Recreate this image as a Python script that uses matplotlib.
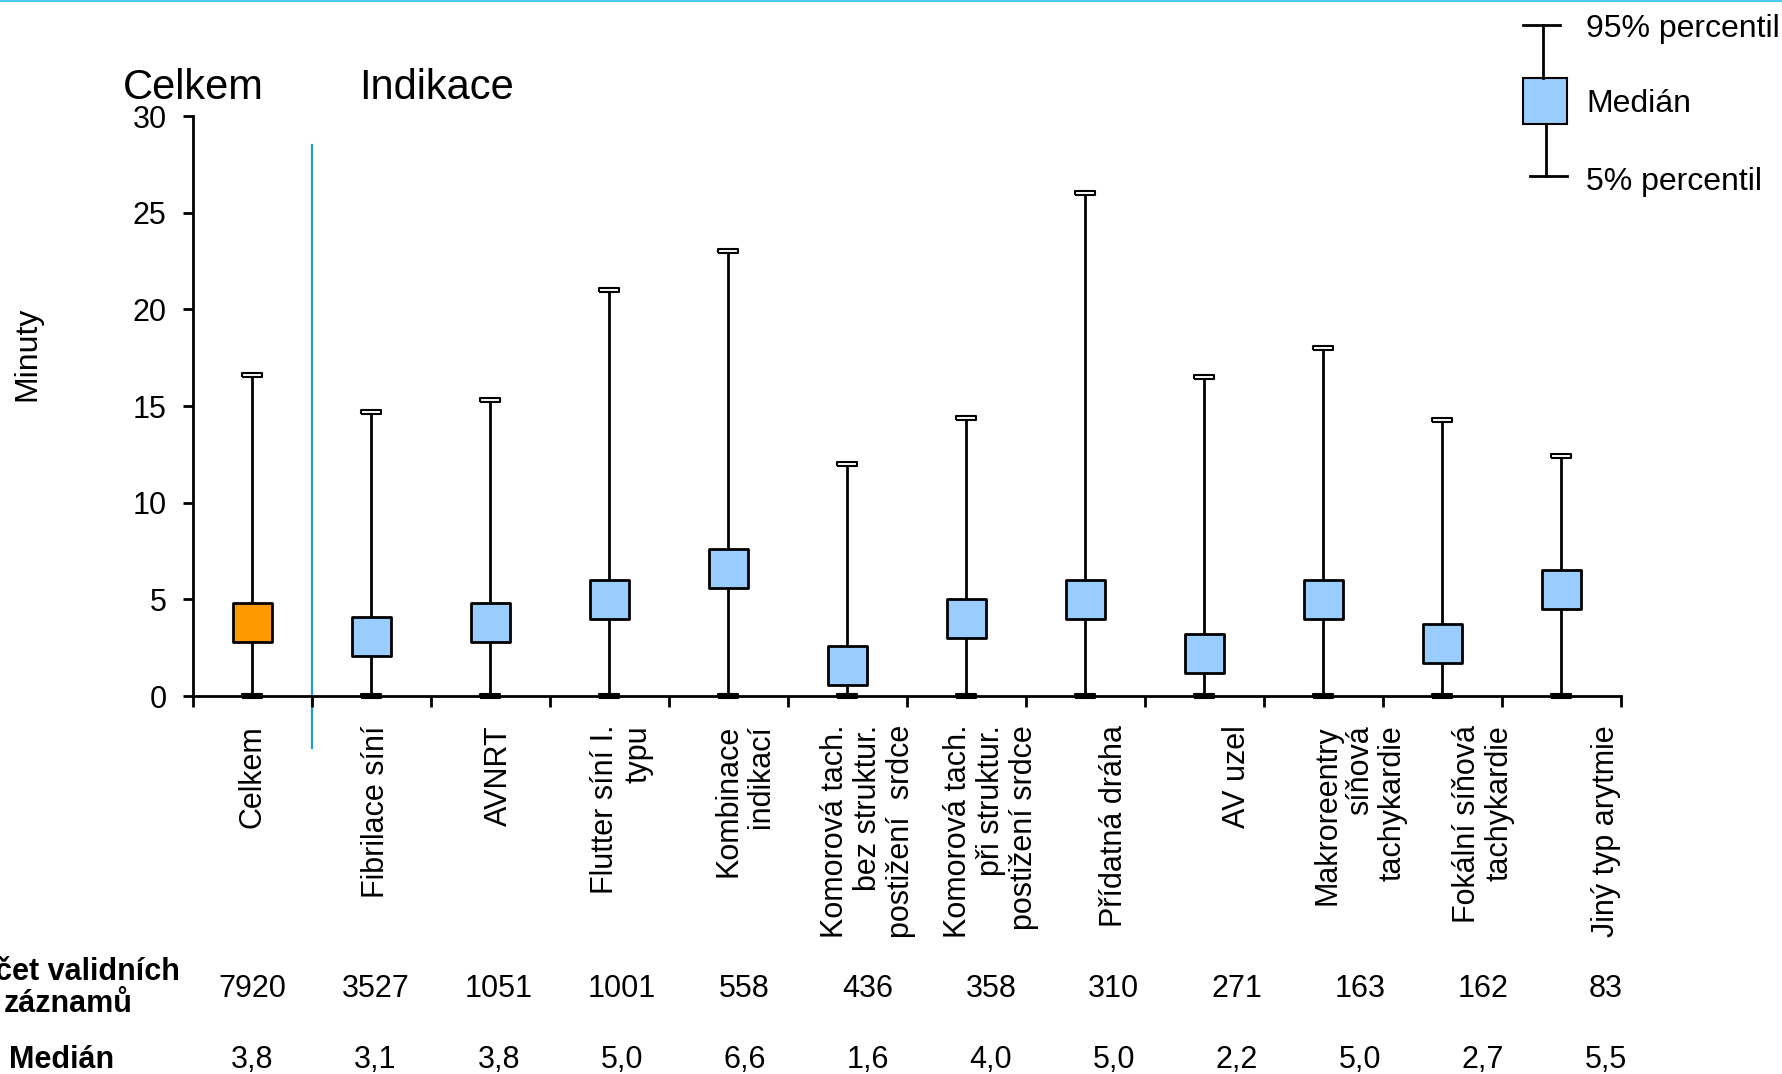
import matplotlib
matplotlib.use('Agg')
import matplotlib.pyplot as plt
from matplotlib.lines import Line2D
from matplotlib.patches import Rectangle

# ---------------- data ----------------
categories = ["Celkem", "Fibrilace síní", "AVNRT", "Flutter síní I.\ntypu",
              "Kombinace\nindikací", "Komorová tach.\nbez struktur.\npostižení  srdce",
              "Komorová tach.\npři struktur.\npostižení srdce", "Přídatná dráha",
              "AV uzel", "Makroreentry\nsíňová\ntachykardie",
              "Fokální síňová\ntachykardie", "Jiný typ arytmie"]
medians = [3.8, 3.1, 3.8, 5.0, 6.6, 1.6, 4.0, 5.0, 2.2, 5.0, 2.7, 5.5]
p95 = [16.6, 14.7, 15.3, 21.0, 23.0, 12.0, 14.4, 26.0, 16.5, 18.0, 14.3, 12.4]
p5 = [0, 0, 0, 0, 0, 0, 0, 0, 0, 0, 0, 0]
counts = [7920, 3527, 1051, 1001, 558, 436, 358, 310, 271, 163, 162, 83]
yticks = [0, 5, 10, 15, 20, 25, 30]
row_labels = ["Počet validních\nzáznamů", "Medián"]
legend_labels = ["95% percentil", "Medián", "5% percentil"]

# ---------------- styles ----------------
W, H = 1783, 1074
C_TOTAL = '#FF9900'
C_BOX = '#99CCFF'
C_DIV = '#1E9BD7'
C_TOP = '#4DC8F0'
plt.rcParams['font.family'] = ['Liberation Sans', 'DejaVu Sans']
NARROW = ['Liberation Sans Narrow', 'Liberation Sans', 'DejaVu Sans']
LW = 2.0

fig = plt.figure(figsize=(W / 100, H / 100), dpi=100)

ax = fig.add_axes([193 / W, 1 - 696 / H, 1428 / W, 580 / H])
x = list(range(len(categories)))
ax.set_xlim(-0.5, len(categories) - 0.5)
ax.set_ylim(0, 30)
for s in ['top', 'right']:
    ax.spines[s].set_visible(False)
for s in ['left', 'bottom']:
    ax.spines[s].set_linewidth(LW)
ax.set_yticks(yticks)
ax.tick_params(axis='y', labelsize=22, length=7, width=LW, pad=12)
ax.set_xticks([i - 0.5 for i in range(len(categories) + 1)])
ax.set_xticklabels([])
ax.tick_params(axis='x', length=8, width=LW)

# whiskers
ax.vlines(x, p5, p95, color='black', lw=LW, zorder=2)
cap = [(-1, -0.25), (1, -0.25), (1, 0.25), (-1, 0.25), (-1, -0.25)]
ax.plot(x, p95, ls='none', marker=cap, ms=14, mfc='white', mec='black', mew=1.5, zorder=3)
ax.plot(x, p5, ls='none', marker=cap, ms=14, mfc='black', mec='black', mew=1.5,
        zorder=3, clip_on=False)
colors = [C_TOTAL] + [C_BOX] * (len(categories) - 1)
ax.scatter(x, medians, marker='s', s=28 ** 2, c=colors, edgecolors='black',
           linewidths=LW, zorder=4)

# divider line between total and indications
ax.plot([0.5, 0.5], [28.5, -2.7], color=C_DIV, lw=1.6, clip_on=False, zorder=1)

# overlay in pixel coordinates
lax = fig.add_axes([0, 0, 1, 1])
lax.set_xlim(0, W)
lax.set_ylim(H, 0)
lax.axis('off')

lax.plot([0, W], [1, 1], color=C_TOP, lw=1.5)

lax.text(27, 354, 'Minuty', rotation=90, ha='center', va='center', fontsize=23)
lax.text(193, 99, 'Celkem', ha='center', va='baseline', fontsize=30)
lax.text(437, 99, 'Indikace', ha='center', va='baseline', fontsize=30)

# legend
lax.plot([1523, 1560], [25, 25], color='black', lw=LW)
lax.plot([1543, 1543], [25, 78], color='black', lw=LW)
lax.add_patch(Rectangle((1523, 78), 44, 46, facecolor=C_BOX, edgecolor='black', lw=1.5))
lax.plot([1546, 1546], [124, 176], color='black', lw=LW)
lax.plot([1530, 1567], [176, 176], color='black', lw=LW)
for ly, lt in zip([29, 104, 182], legend_labels):
    lax.text(1586, ly, lt, ha='left', va='center', fontsize=23)

# category labels and table
col_x = [252.5 + i * 123.05 for i in range(len(categories))]
for cx, lab, n, m in zip(col_x, categories, counts, medians):
    lax.text(cx, 725, lab, rotation=90, ha='center', va='top', multialignment='right',
             fontsize=22, linespacing=1.12)
    lax.text(cx, 989, str(n), ha='center', va='center', fontsize=22, family=NARROW)
    lax.text(cx, 1060, f"{m:.1f}".replace('.', ','), ha='center', va='center',
             fontsize=22, family=NARROW)
lax.text(68, 988, row_labels[0], ha='center', va='center', fontsize=22, family=NARROW,
         fontweight='bold', linespacing=1.05)
lax.text(62, 1060, row_labels[1], ha='center', va='center', fontsize=22, family=NARROW,
         fontweight='bold')

fig.savefig('out.png', dpi=100)
